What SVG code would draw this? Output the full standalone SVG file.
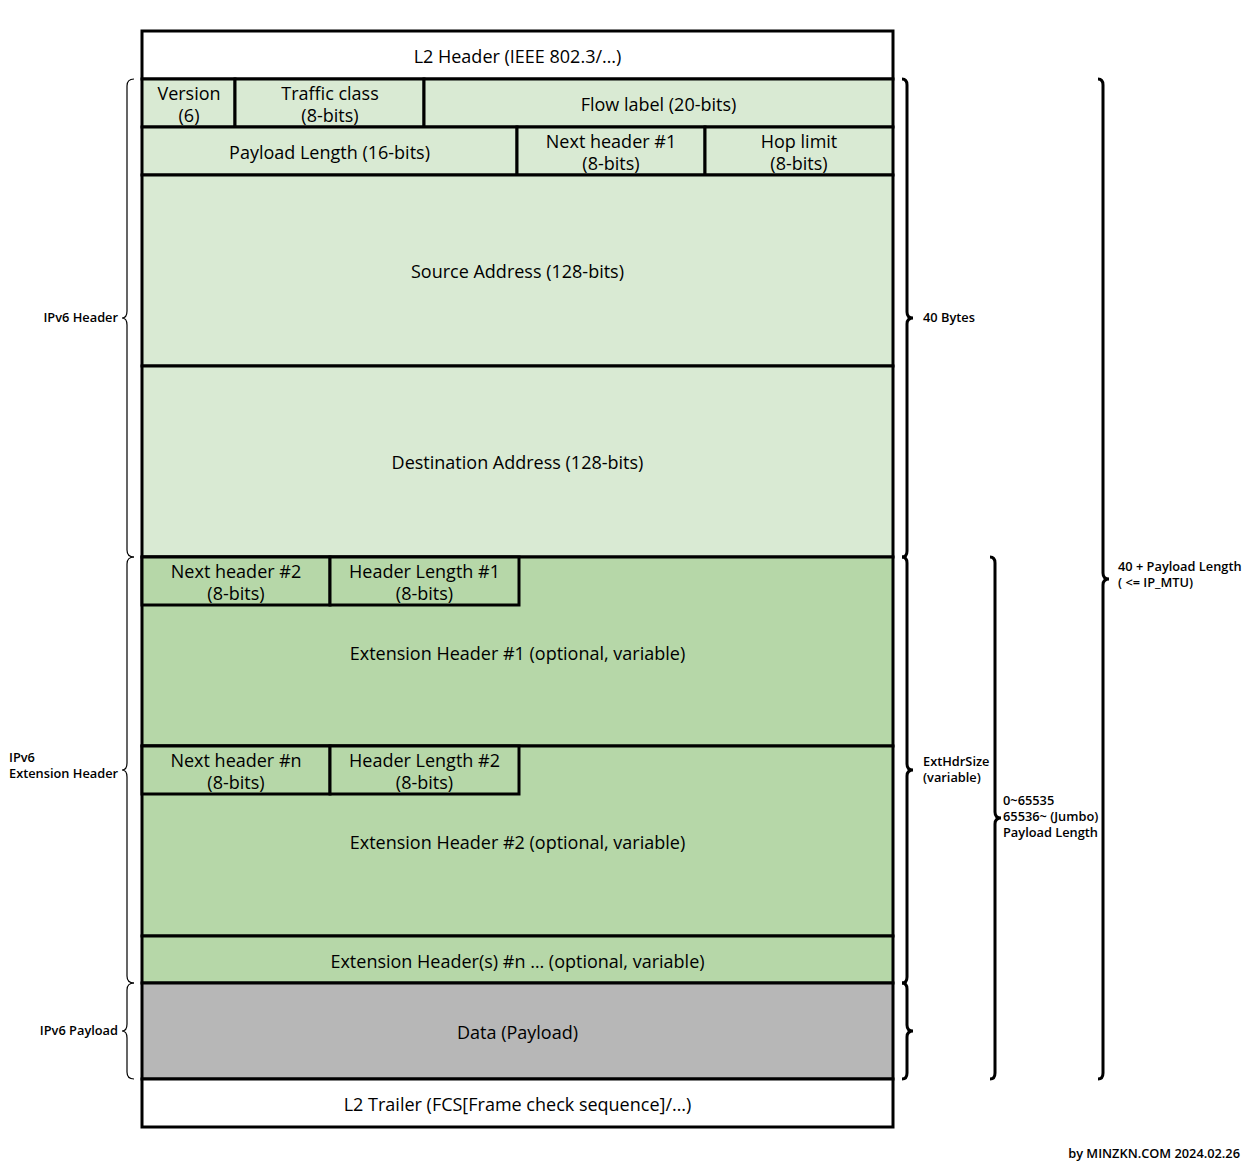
<svg xmlns="http://www.w3.org/2000/svg" width="1258" height="1172" viewBox="0 0 1258 1172">
<style>
.b{stroke:#000;stroke-width:3}
.w{fill:#fff}
.g1{fill:#d9ead3}
.g2{fill:#b6d7a8}
.gr{fill:#b7b7b7}
text{font-family:"Open Sans","DejaVu Sans",sans-serif}
.t{font-size:18px;text-anchor:middle;fill:#000}
.s{font-size:12.8px;font-weight:600;fill:#000}
.e{text-anchor:end}
.bl{fill:none;stroke:#000;stroke-width:1.2}
.br{fill:none;stroke:#000;stroke-width:3}
</style>
<rect width="1258" height="1172" fill="#fff"/>
<g id="l2header"><rect class="b w" x="142" y="31" width="751" height="48"/><text class="t" x="517.5" y="63">L2 Header (IEEE 802.3/…)</text></g>
<g id="version"><rect class="b g1" x="142" y="79" width="93" height="48"/><text class="t" x="189" y="100">Version</text><text class="t" x="189" y="122">(6)</text></g>
<g id="traffic"><rect class="b g1" x="235" y="79" width="189" height="48"/><text class="t" x="330" y="100">Traffic class</text><text class="t" x="330" y="122">(8-bits)</text></g>
<g id="flow"><rect class="b g1" x="424" y="79" width="469" height="48"/><text class="t" x="658.5" y="111">Flow label (20-bits)</text></g>
<g id="payloadlen"><rect class="b g1" x="142" y="127" width="375" height="48"/><text class="t" x="329.5" y="159">Payload Length (16-bits)</text></g>
<g id="nexthdr1"><rect class="b g1" x="517" y="127" width="188" height="48"/><text class="t" x="611" y="148">Next header #1</text><text class="t" x="611" y="170">(8-bits)</text></g>
<g id="hoplimit"><rect class="b g1" x="705" y="127" width="188" height="48"/><text class="t" x="799" y="148">Hop limit</text><text class="t" x="799" y="170">(8-bits)</text></g>
<g id="src"><rect class="b g1" x="142" y="175" width="751" height="191"/><text class="t" x="517.5" y="278">Source Address (128-bits)</text></g>
<g id="dst"><rect class="b g1" x="142" y="366" width="751" height="191"/><text class="t" x="517.5" y="469">Destination Address (128-bits)</text></g>
<g id="ext1"><rect class="b g2" x="142" y="557" width="751" height="189"/><text class="t" x="517.5" y="660">Extension Header #1 (optional, variable)</text></g>
<g id="nexthdr2"><rect class="b g2" x="142" y="557" width="188" height="48"/><text class="t" x="236" y="578">Next header #2</text><text class="t" x="236" y="600">(8-bits)</text></g>
<g id="hdrlen1"><rect class="b g2" x="330" y="557" width="189" height="48"/><text class="t" x="424.5" y="578">Header Length #1</text><text class="t" x="424.5" y="600">(8-bits)</text></g>
<g id="ext2"><rect class="b g2" x="142" y="746" width="751" height="190"/><text class="t" x="517.5" y="849">Extension Header #2 (optional, variable)</text></g>
<g id="nexthdrn"><rect class="b g2" x="142" y="746" width="188" height="48"/><text class="t" x="236" y="767">Next header #n</text><text class="t" x="236" y="789">(8-bits)</text></g>
<g id="hdrlen2"><rect class="b g2" x="330" y="746" width="189" height="48"/><text class="t" x="424.5" y="767">Header Length #2</text><text class="t" x="424.5" y="789">(8-bits)</text></g>
<g id="extn"><rect class="b g2" x="142" y="936" width="751" height="47"/><text class="t" x="517.5" y="968">Extension Header(s) #n … (optional, variable)</text></g>
<g id="data"><rect class="b gr" x="142" y="983" width="751" height="96"/><text class="t" x="517.5" y="1039">Data (Payload)</text></g>
<g id="l2trailer"><rect class="b w" x="142" y="1079" width="751" height="48"/><text class="t" x="517.5" y="1111">L2 Trailer (FCS[Frame check sequence]/…)</text></g>
<g id="connectors">
<path class="bl" d="M134,79 Q127,79 127,86 L127,311 Q127,318 122,318 Q127,318 127,325 L127,550 Q127,557 134,557"/>
<path class="bl" d="M134,557 Q127,557 127,564 L127,763 Q127,770 122,770 Q127,770 127,777 L127,976 Q127,983 134,983"/>
<path class="bl" d="M134,983 Q127,983 127,990 L127,1024 Q127,1031 122,1031 Q127,1031 127,1038 L127,1072 Q127,1079 134,1079"/>
<path class="br" d="M902,79 Q907,79 907,85 L907,312 Q907,318 913,318 Q907,318 907,324 L907,551 Q907,557 902,557"/>
<path class="br" d="M902,557 Q907,557 907,563 L907,764 Q907,770 913,770 Q907,770 907,776 L907,977 Q907,983 902,983"/>
<path class="br" d="M902,983 Q907,983 907,989 L907,1025 Q907,1031 913,1031 Q907,1031 907,1037 L907,1073 Q907,1079 902,1079"/>
<path class="br" d="M990,557 Q995,557 995,563 L995,812 Q995,818 1001,818 Q995,818 995,824 L995,1073 Q995,1079 990,1079"/>
<path class="br" d="M1098,79 Q1103,79 1103,85 L1103,573 Q1103,579 1109,579 Q1103,579 1103,585 L1103,1073 Q1103,1079 1098,1079"/>
</g>
<g id="labels">
<text class="s e" x="118" y="322">IPv6 Header</text>
<text class="s" x="9" y="762">IPv6</text>
<text class="s" x="9" y="778">Extension Header</text>
<text class="s e" x="118" y="1035">IPv6 Payload</text>
<text class="s" x="923" y="322">40 Bytes</text>
<text class="s" x="923" y="766">ExtHdrSize</text>
<text class="s" x="923" y="782">(variable)</text>
<text class="s" x="1003" y="805">0~65535</text>
<text class="s" x="1003" y="821">65536~ (Jumbo)</text>
<text class="s" x="1003" y="837">Payload Length</text>
<text class="s" x="1118" y="571">40 + Payload Length</text>
<text class="s" x="1118" y="587">( &lt;= IP_MTU)</text>
<text class="s e" x="1240" y="1158">by MINZKN.COM 2024.02.26</text>
</g>
</svg>
